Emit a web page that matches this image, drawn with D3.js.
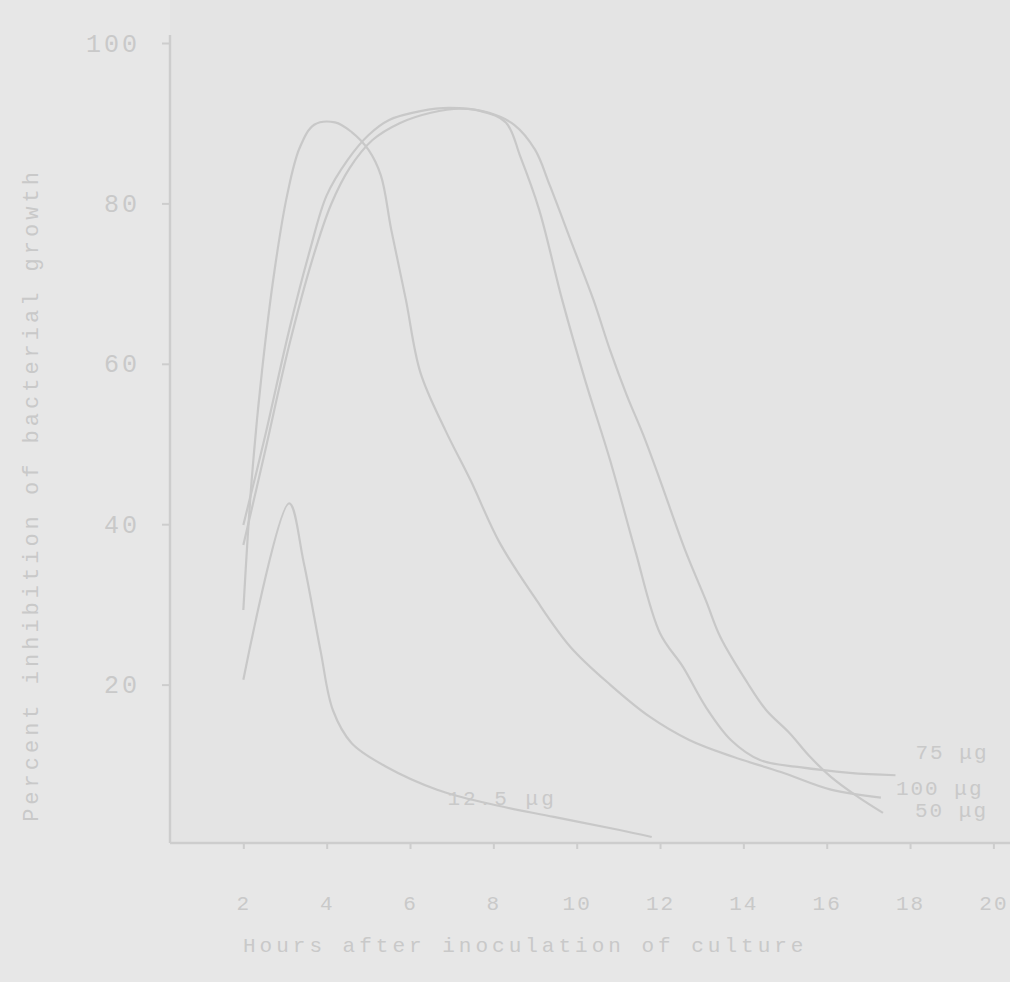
<!DOCTYPE html>
<html>
<head>
<meta charset="utf-8">
<script src="https://cdn.jsdelivr.net/npm/d3@7"></script>
<style>
  body { margin: 0; background: #e7e7e7; }
  svg { display: block; }
  text { font-family: "Liberation Mono", "DejaVu Sans Mono", monospace; fill: #c9c9c9; }
</style>
</head>
<body>
<script>
// values: [hours, percent]
const xTicks = [2, 4, 6, 8, 10, 12, 14, 16, 18, 20];
const yTicks = [20, 40, 60, 80, 100];

const dose12 = [[2.0,20.6],[3.1,42.6],[3.45,35.2],[3.85,24.3],[4.15,16.8],[4.6,12.7],[5.45,9.7],
                [6.65,6.9],[7.85,5.2],[9.45,3.5],[11.0,1.9],[11.8,1.0]];
const dose100 = [[2.0,29.3],[2.2,45.5],[2.45,59.2],[2.75,71.7],[3.05,81.0],[3.35,86.9],[3.7,89.8],
                 [4.2,90.1],[4.6,88.9],[5.0,86.7],[5.3,83.5],[5.55,76.7],[5.9,68.0],[6.25,58.9],
                 [6.85,51.7],[7.45,45.5],[8.15,37.7],[9.0,30.8],[9.85,24.7],[10.8,20.0],[11.75,16.0],
                 [12.7,13.1],[13.75,11.0],[14.9,9.1],[16.1,6.9],[17.3,5.9]];
const dose75 = [[2.0,39.9],[2.5,50.5],[3.1,64.2],[3.6,74.2],[4.0,81.0],[4.5,85.4],[5.0,88.5],
                [5.5,90.4],[6.25,91.5],[6.95,91.9],[7.7,91.5],[8.3,90.1],[8.65,85.8],[9.1,79.2],
                [9.65,68.0],[10.2,58.0],[10.8,48.0],[11.4,36.8],[12.0,26.4],[12.55,22.2],[13.1,17.2],
                [13.7,13.1],[14.4,10.6],[15.35,9.7],[16.55,9.0],[17.65,8.7]];
const dose50 = [[2.0,37.4],[2.5,48.6],[3.1,62.3],[3.65,72.9],[4.1,79.8],[4.55,84.4],[5.1,87.9],
                [5.75,90.0],[6.5,91.3],[7.2,91.8],[7.9,91.3],[8.5,89.8],[9.0,86.7],[9.35,82.3],
                [9.9,74.8],[10.4,68.0],[10.8,61.7],[11.2,56.1],[11.6,51.1],[12.0,45.5],[12.6,36.8],
                [13.1,30.5],[13.45,25.9],[14.1,20.2],[14.55,16.8],[15.1,14.0],[15.6,11.0],[16.1,8.5],
                [16.75,6.0],[17.35,4.0]];

const series = [
  { name: "12.5 μg", pts: dose12 },
  { name: "100 μg", pts: dose100 },
  { name: "75 μg", pts: dose75 },
  { name: "50 μg", pts: dose50 }
];

const W = 1010, H = 982;
const svg = d3.select("body").append("svg").attr("width", W).attr("height", H);

const x = d3.scaleLinear().domain([0, 20]).range([160, 993.4]);
const y = d3.scaleLinear().domain([0, 100]).range([845, 43]);
const axisX = 170, axisY = 843;

// plot area, a touch darker like the scan
svg.append("rect").attr("x", axisX).attr("y", 0).attr("width", W - axisX).attr("height", axisY)
   .attr("fill", "#e4e4e4");

const line = d3.line().x(d => x(d[0])).y(d => y(d[1])).curve(d3.curveCatmullRom.alpha(0.5));

svg.append("g").selectAll("path").data(series).join("path")
   .attr("d", d => line(d.pts))
   .attr("fill", "none").attr("stroke", "#c8c8c8").attr("stroke-width", 2.2);

// axes
const gy = svg.append("g").attr("transform", `translate(${axisX},0)`)
   .call(d3.axisLeft(y).tickValues(yTicks).tickSize(8).tickPadding(22).tickFormat(d3.format("d")));
gy.select(".domain").attr("d", `M0,${y(100) - 8}V${axisY}`);
const gx = svg.append("g").attr("transform", `translate(0,${axisY})`)
   .call(d3.axisBottom(x).tickValues(xTicks).tickSize(6).tickPadding(46));
gx.select(".domain").attr("d", `M${axisX},0H${W}`);

svg.selectAll(".domain").attr("stroke", "#cdcdcd").attr("stroke-width", 2.5);
svg.selectAll(".tick line").attr("stroke", "#cdcdcd").attr("stroke-width", 2);
gy.selectAll(".tick text").attr("font-size", 25).style("letter-spacing", "3px");
gx.selectAll(".tick text").attr("font-size", 21).style("letter-spacing", "2px");

// axis titles
svg.append("text").attr("transform", "translate(38,495) rotate(-90)")
   .attr("text-anchor", "middle").attr("font-size", 22).style("letter-spacing", "4px")
   .text("Percent inhibition of bacterial growth");
svg.append("text").attr("x", 243).attr("y", 952).attr("font-size", 21).style("letter-spacing", "4px")
   .text("Hours after inoculation of culture");

// curve labels, placed off the end of each curve
const endOffsets = { "100 μg": [15, -3], "75 μg": [20, -16], "50 μg": [32, 4] };
series.filter(s => endOffsets[s.name]).forEach(s => {
  const p = s.pts[s.pts.length - 1];
  svg.append("text").attr("x", x(p[0]) + endOffsets[s.name][0]).attr("y", y(p[1]) + endOffsets[s.name][1])
     .attr("font-size", 21).style("letter-spacing", "2px").text(s.name);
});
svg.append("text").attr("x", x(6.9)).attr("y", y(5)).attr("font-size", 21).style("letter-spacing", "3px")
   .text(series[0].name);
</script>
</body>
</html>
